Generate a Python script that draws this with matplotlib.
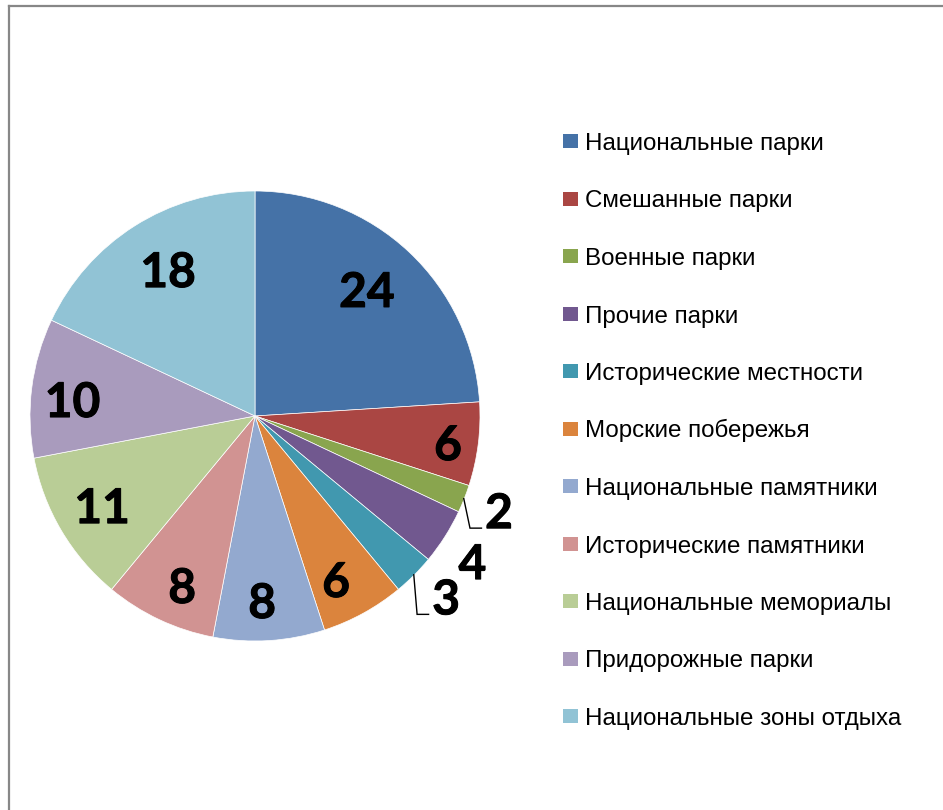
import numpy as np
import matplotlib
matplotlib.use("Agg")
import matplotlib.pyplot as plt
import matplotlib.patheffects as pe
from matplotlib.patches import Rectangle
from matplotlib.lines import Line2D

categories = ["Национальные парки", "Смешанные парки", "Военные парки", "Прочие парки",
              "Исторические местности", "Морские побережья", "Национальные памятники",
              "Исторические памятники", "Национальные мемориалы", "Придорожные парки",
              "Национальные зоны отдыха"]
values = [24, 6, 2, 4, 3, 6, 8, 8, 11, 10, 18]
colors = ["#4572A7", "#AA4643", "#89A54E", "#71588F", "#4198AF", "#DB843D",
          "#93A9CF", "#D19392", "#B9CD96", "#A99BBD", "#91C3D5"]
# data label placement: radius (fraction of pie radius) and angle nudge (deg)
label_r = [0.749, 0.866, 1.164, 1.164, 1.171, 0.813, 0.823, 0.822, 0.789, 0.814, 0.755]
label_dang = [1.6, -0.8, 0.3, -1.5, 1.5, -2.5, -1.4, 2.0, -0.1, 2.2, -1.6]
leader = [False, False, True, False, True, False, False, False, False, False, False]

W, H = 943, 810
fig = plt.figure(figsize=(W / 100, H / 100), dpi=100)
fig.patch.set_facecolor("white")

cx, cy, R = 255, 416, 225
half = 255
ax = fig.add_axes([(cx - half) / W, (H - (cy + half)) / H, 2 * half / W, 2 * half / H])

wedges, _ = ax.pie(values, colors=colors, startangle=90, counterclock=False, radius=1.0,
                   wedgeprops=dict(linewidth=0.5, edgecolor="white"))
ax.set_xlim(-half / R, half / R)
ax.set_ylim(-half / R, half / R)
ax.set_aspect("equal")
ax.axis("off")

cap = 17.0 / R  # half of digit height in data units
total = sum(values)
cum = 0
for i, v in enumerate(values):
    mid = 90 - 360 * (cum + v / 2) / total
    cum += v
    a = np.deg2rad(mid + label_dang[i])
    r = label_r[i]
    x, y = r * np.cos(a), r * np.sin(a)
    ax.text(x, y - cap, str(v), ha="center", va="baseline", fontsize=34.5, fontweight="bold",
            family=["Lato", "DejaVu Sans"], color="black",
            path_effects=[pe.withStroke(linewidth=0.7, foreground="black")])
    if leader[i]:
        am = np.deg2rad(mid)
        sx, sy = 0.998 * np.cos(am), 0.998 * np.sin(am)
        ly = y - cap
        ax.plot([sx, x - 0.129, x - 0.078], [sy, ly, ly], color="black", lw=1.0,
                solid_joinstyle="miter", clip_on=False)

# legend
row0, step = 141, 57.5
for i, (c, lab) in enumerate(zip(categories, colors)):
    yy = row0 + i * step
    fig.add_artist(Rectangle((563 / W, (H - yy - 7) / H), 15 / W, 14 / H,
                             transform=fig.transFigure, facecolor=lab, edgecolor="none"))
    fig.text(585 / W, (H - yy - 9) / H, c, ha="left", va="baseline", fontsize=17.4,
             family=["Liberation Sans", "DejaVu Sans"], color="black")

# chart border (top and left visible)
fig.add_artist(Line2D([8.5 / W, 1.0], [(H - 5.5) / H, (H - 5.5) / H], transform=fig.transFigure,
                      color="#878787", lw=1.6))
fig.add_artist(Line2D([8.5 / W, 8.5 / W], [0, (H - 5.5) / H], transform=fig.transFigure,
                      color="#878787", lw=1.6))

fig.savefig("out.png", dpi=100)
